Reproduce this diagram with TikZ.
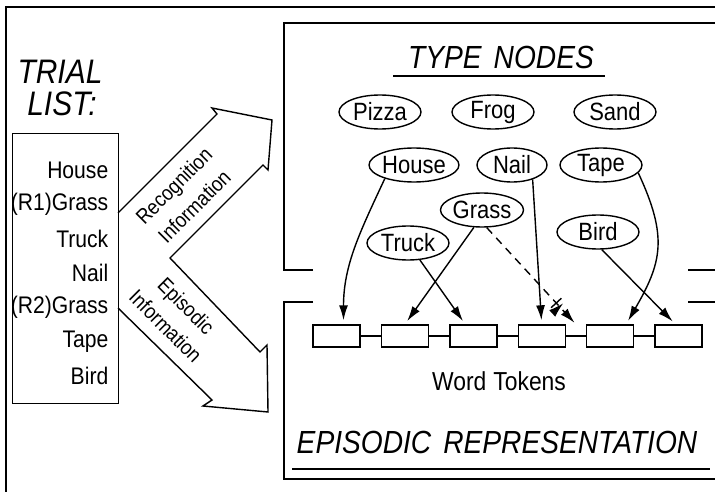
\documentclass[tikz,border=0pt]{standalone}
\usepackage{fontspec}
\setmainfont{Liberation Sans}[FakeStretch=0.88]
\usetikzlibrary{shapes.geometric,arrows.meta,decorations.markings,calc}

\begin{document}
\begin{tikzpicture}[x=1pt, y=1pt, line width=1.4pt,
  typenode/.style={ellipse, draw, minimum width=82pt, minimum height=34pt, inner sep=0pt, font=\fontsize{25}{26}\selectfont},
  tokbox/.style={rectangle, draw, minimum width=47pt, minimum height=22pt, inner sep=0pt},
  link/.style={-{Latex[length=15pt,width=9pt]}, shorten >=4pt},
  listword/.style={anchor=east, inner sep=0pt, font=\fontsize{24}{26}\selectfont},
  heading/.style={inner sep=0pt, font=\fontsize{32}{34}\selectfont\itshape},
  arrowtext/.style={inner sep=0pt, align=center, font=\fontsize{21}{29}\selectfont}]

\useasboundingbox (0,-492) rectangle (715,0);

\draw (6,-492) -- (6,-7) -- (715,-7);

\draw (60,-72) node (trial) [heading, font=\fontsize{34}{36}\selectfont\itshape] {TRIAL};
\draw (62,-104) node (list) [heading, font=\fontsize{34}{36}\selectfont\itshape] {LIST:};

\draw (12,-133) node (tbox) [anchor=north west, rectangle, draw, minimum width=106pt, minimum height=270pt] {};
\draw (109,-170) node (w1) [listword] {House};
\draw (109,-204) node (w2) [listword] {(R1)Grass};
\draw (109,-239) node (w3) [listword] {Truck};
\draw (109,-273) node (w4) [listword] {Nail};
\draw (109,-307) node (w5) [listword] {(R2)Grass};
\draw (109,-342) node (w6) [listword] {Tape};
\draw (109,-376) node (w7) [listword] {Bird};

\draw (118,-213) -- (217,-114) -- (212,-108) -- (272,-120) -- (268,-170) -- (263,-165)
  -- (170,-258) -- (260,-352) -- (267,-345) -- (268,-412) -- (203,-406) -- (212,-400) -- (118,-308);
\draw (184,-196) node (recog) [arrowtext, rotate=45] {Recognition\\Information};
\draw (176,-316) node (epis) [arrowtext, rotate=-45] {Episodic\\Information};

\draw (313,-270) -- (284,-270) -- (284,-23) -- (715,-23);
\draw (688,-270) -- (715,-270);
\draw (688,-302) -- (715,-302);
\draw (313,-302) -- (284,-302) -- (284,-479) -- (715,-479);

\draw (501,-57) node (typehead) [heading] {TYPE\hspace{12pt}NODES};
\draw (393,-76) -- (605,-76);

\draw (380,-112) node (pizza) [typenode] {Pizza};
\draw (493,-112) node (frog) [typenode] {Frog};
\draw (615,-112) node (sand) [typenode] {Sand};
\draw (414,-165) node (house) [typenode, minimum width=78pt] {House};
\draw (512,-165) node (nail) [typenode, minimum width=70pt] {Nail};
\draw (601,-165) node (tape) [typenode] {Tape};
\draw (482,-210) node (grass) [typenode] {Grass};
\draw (408,-243) node (truck) [typenode] {Truck};
\draw (598,-232) node (bird) [typenode] {Bird};

\draw (336.5,-336) node (tok1) [tokbox] {};
\draw ([xshift=20pt]tok1.east) node (tok2) [right, tokbox] {};
\draw ([xshift=20pt]tok2.east) node (tok3) [right, tokbox] {};
\draw ([xshift=20pt]tok3.east) node (tok4) [right, tokbox] {};
\draw ([xshift=20pt]tok4.east) node (tok5) [right, tokbox] {};
\draw ([xshift=20pt]tok5.east) node (tok6) [right, tokbox] {};
\draw (tok1.east) -- (tok2.west);
\draw (tok2.east) -- (tok3.west);
\draw (tok3.east) -- (tok4.west);
\draw (tok4.east) -- (tok5.west);
\draw (tok5.east) -- (tok6.west);
\coordinate (gap) at ($(tok4.north east)!0.5!(tok5.north west)$);

\draw (499,-381) node (wordtok) [font=\fontsize{26}{27}\selectfont] {Word\hspace{7pt}Tokens};
\draw (497,-442) node (epihead) [heading] {EPISODIC\hspace{12pt}REPRESENTATION};
\draw (292,-469) -- (710,-469);

\draw [link] (house.205) to[out=245,in=90] ([xshift=7pt]tok1.north);
\draw [link] (nail.-35) -- (tok4.north);
\draw [link] (tape.-12) to[out=-65,in=60,looseness=1.2] ([xshift=16pt]tok5.north);
\draw [link] (grass.245) -- (tok2.north);
\draw [link] (truck.-55) -- ([xshift=-8pt]tok3.north);
\draw [link] (bird.-78) -- ([xshift=-3pt]tok6.north);
\draw [link, dash pattern=on 8pt off 6pt, shorten >=2pt,
  postaction={decorate, decoration={markings, mark=at position 0.8 with {\draw[solid] (-2.5,-7) -- (-2.5,7) (2.5,-7) -- (2.5,7);}}}]
  (grass.-75) -- (gap);

\end{tikzpicture}
\end{document}
